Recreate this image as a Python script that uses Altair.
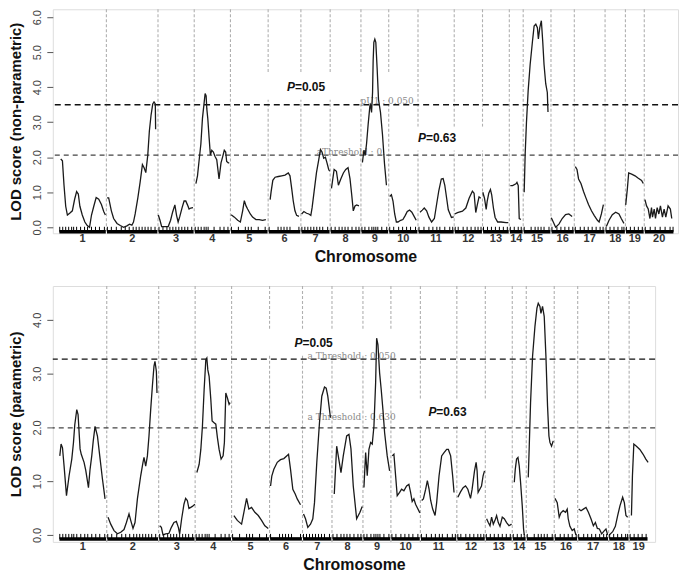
import altair as alt
import pandas as pd

# ---------------- data ----------------
CHROM_LEN = [48, 52, 36.5, 36.5, 38, 33, 29.5, 31, 28, 29.5, 36.5, 28.5, 27, 14, 28, 23.5, 31, 20.5, 19, 30]
CHROM_NAMES = [str(i) for i in range(1, 21)]

# non-parametric LOD (top panel): positions within chromosome (cM) and LOD
NP_POS = {
    1: [2, 3.7, 5.3, 7, 8.7, 11, 13.7, 16, 18, 19.7, 21.3, 23.7, 26.3, 28.7, 31, 33, 35.3, 37.7, 40.3, 43, 45.3, 47],
    2: [0.7, 2.3, 5, 7.3, 10.7, 14, 17.3, 20.7, 23.3, 25.7, 27.3, 29, 31.7, 34, 36.3, 38, 39.7, 41.7, 43.3, 45, 46.7, 48, 49.3, 49.6],
    3: [0.3, 2, 3.7, 7, 10.3, 12.7, 14.7, 17, 18.7, 20.3, 22, 24.3, 26.3, 28, 29.7, 31.3, 33, 35.3],
    4: [1.7, 3.3, 5, 6.7, 8.3, 10, 11, 12, 12.7, 13.7, 15, 16.3, 17.7, 19.3, 21, 22.7, 25, 27, 28.7, 30.3, 31.7, 32.7, 34.3, 35.3],
    5: [0.7, 4, 7.3, 10, 12.3, 14, 15.7, 17.3, 20, 22.3, 25.7, 29, 32.3, 35.7],
    6: [2, 3, 4.7, 7, 10.3, 13.7, 17, 20.3, 22, 23.7, 25.3, 27, 28.7, 31],
    7: [0.7, 3, 5.7, 8, 10, 11.3, 13.3, 15.7, 18, 19.7, 21.3, 23, 24.7, 26.3, 28, 29],
    8: [1.3, 4, 6.3, 8.3, 10.7, 13.3, 15.7, 18, 20, 21.7, 23.3, 25, 26.7, 29],
    9: [1.5, 3, 4.3, 5.7, 7.3, 9, 9.7, 10.7, 11.7, 12.3, 13, 14, 15, 16.3, 17.7, 19.7, 21.7, 23.7, 25.7],
    10: [1, 2.7, 4.3, 6, 7.7, 9.3, 12, 14.3, 16.7, 18.7, 21, 23.3, 26, 27.7],
    11: [2, 4.3, 6.3, 8.7, 11, 13.7, 16.5, 19, 21, 23.5, 25.3, 27, 29, 30.5, 33.7, 36],
    12: [0.5, 3.3, 8.3, 11.7, 15, 18.3, 20, 21.7, 23.3, 25, 26.7],
    13: [0.3, 2, 3.7, 4.7, 6.3, 8, 9.3, 11, 12.7, 15.3, 18.7, 23.7, 26],
    14: [1, 3.3, 6.7, 7.7, 9, 10, 11.7],
    15: [1, 2, 3.3, 5, 7, 9.3, 11, 12.7, 14.3, 15.3, 16.7, 18.3, 19.7, 21, 22.7, 24.3, 25],
    16: [0.3, 2.3, 4.7, 8, 11.3, 14.7, 18, 21.3],
    17: [1, 2.7, 4.3, 6.7, 9.3, 11.7, 14.3, 17.3, 20, 23.3, 25, 27.3, 29.3],
    18: [1.3, 4, 7.3, 10.7, 14, 16.3, 19],
    19: [0.3, 2, 3.3, 6.3, 9.7, 13, 16.3, 18],
    20: [0.7, 2.3, 4, 5.7, 7.3, 8.3, 10, 11.3, 13, 14.7, 16.3, 18.3, 20, 21.7, 24, 26.3, 27.7],
}
NP_LOD = {
    1: [1.95, 1.9, 1.2, 0.6, 0.35, 0.4, 0.47, 0.8, 1.02, 0.95, 0.6, 0.35, 0.15, 0.05, 0.0, 0.35, 0.6, 0.85, 0.8, 0.65, 0.45, 0.35],
    2: [0.84, 0.84, 0.47, 0.25, 0.11, 0.05, 0.0, 0.04, 0.09, 0.06, 0.15, 0.38, 0.84, 1.29, 1.79, 1.7, 1.56, 2.06, 2.75, 3.2, 3.52, 3.58, 3.52, 2.8],
    3: [0.35, 0.2, 0.02, 0.02, 0.02, 0.2, 0.43, 0.64, 0.34, 0.15, 0.31, 0.56, 0.75, 0.75, 0.64, 0.52, 0.55, 0.56],
    4: [1.25, 1.47, 1.93, 2.38, 3.11, 3.56, 3.82, 3.75, 3.38, 3.1, 2.56, 2.06, 2.2, 2.15, 2.02, 1.93, 1.38, 1.84, 2.02, 2.2, 2.15, 1.88, 1.84, 1.84],
    5: [0.36, 0.29, 0.2, 0.15, 0.47, 0.76, 0.61, 0.52, 0.38, 0.29, 0.22, 0.22, 0.2, 0.22],
    6: [0.79, 1.02, 1.34, 1.43, 1.45, 1.47, 1.49, 1.55, 1.47, 1.11, 0.75, 0.47, 0.34, 0.31],
    7: [0.38, 0.45, 0.4, 0.38, 0.34, 0.56, 1.02, 1.56, 1.93, 2.22, 2.15, 1.97, 2.0, 1.84, 1.65, 1.6],
    8: [1.11, 1.65, 1.6, 1.2, 1.38, 1.55, 1.65, 1.7, 1.38, 0.93, 0.47, 0.61, 0.64, 0.61],
    9: [1.85, 2.2, 2.05, 2.4, 2.95, 3.46, 3.5, 3.28, 3.85, 4.75, 5.28, 5.37, 5.28, 4.55, 3.65, 3.28, 2.65, 1.83, 1.2],
    10: [0.88, 0.93, 0.75, 0.38, 0.15, 0.15, 0.2, 0.22, 0.34, 0.45, 0.49, 0.43, 0.29, 0.2],
    11: [0.43, 0.49, 0.55, 0.47, 0.29, 0.15, 0.25, 0.7, 1.05, 1.38, 1.39, 1.2, 0.8, 0.5, 0.28, 0.3],
    12: [0.38, 0.42, 0.46, 0.55, 0.83, 1.03, 0.97, 0.42, 0.65, 0.87, 0.83],
    13: [1.0, 0.83, 0.51, 0.74, 0.97, 1.08, 0.92, 0.55, 0.28, 0.15, 0.15, 0.13, 0.13],
    14: [1.19, 1.19, 1.24, 1.28, 1.19, 0.25, 0.22],
    15: [1.0, 2.1, 3.0, 3.9, 4.65, 5.3, 5.75, 5.8, 5.7, 5.38, 5.7, 5.9, 5.3, 4.65, 4.1, 3.85, 3.29],
    16: [0.27, 0.15, 0.0, 0.09, 0.25, 0.36, 0.38, 0.31],
    17: [1.73, 1.65, 1.38, 1.25, 1.02, 0.84, 0.65, 0.47, 0.34, 0.2, 0.15, 0.38, 0.65],
    18: [0.02, 0.2, 0.36, 0.43, 0.38, 0.25, 0.11],
    19: [0.64, 1.11, 1.55, 1.52, 1.47, 1.4, 1.34, 1.25],
    20: [0.79, 0.61, 0.52, 0.25, 0.56, 0.29, 0.52, 0.25, 0.56, 0.38, 0.61, 0.29, 0.52, 0.29, 0.61, 0.52, 0.25],
}

# parametric LOD (bottom panel)
PA_POS = {
    1: [1, 2.3, 3.7, 5.3, 7.7, 10.3, 13, 14.7, 16, 18, 19.3, 21.3, 22.5, 25.3, 27, 29.7, 31.3, 33, 34.5, 36.3, 38.7, 41, 43.7, 46.3],
    2: [1.3, 4, 7.3, 10.7, 14, 17.3, 19.7, 22.3, 24, 26.3, 28.3, 30.7, 34, 36.3, 37.3, 39, 40.7, 42.3, 44, 45.7, 47.3, 48.3, 49.7, 50.3],
    3: [1, 2.7, 4.3, 7, 10.3, 12.7, 15.3, 17.7, 19.7, 21, 23, 25.3, 27, 28.7, 30.3, 33.7, 36.3],
    4: [1.7, 4, 5.7, 7.3, 9, 10.7, 11.7, 12.7, 14, 15.7, 17, 18.7, 20.7, 22.3, 24, 26, 28, 29.3, 30.7, 32.3, 34, 35],
    5: [2.3, 5.7, 10, 12.3, 15, 17.3, 20, 23.3, 26.7, 30, 33.3, 36.7],
    6: [1, 2.3, 4.3, 7.7, 11, 14.3, 19, 21, 23.3, 25.7, 27.7, 31],
    7: [1, 3, 5.3, 8, 10.3, 12, 14.3, 17, 19.3, 22, 23.7, 25.3, 28],
    8: [2.3, 4.7, 6.3, 9, 11.3, 14.7, 17, 19, 21.3, 24.7, 28, 30.3],
    9: [1, 2.7, 4.3, 6, 7.7, 9.3, 11, 12.7, 13.7, 15, 16.7, 18.3, 20, 21.7, 24.3, 26.7],
    10: [1.3, 3, 4.7, 6.3, 8.7, 10.7, 13, 15.7, 18, 19.7, 21.3, 23, 24.7, 26.3, 29],
    11: [1.3, 3, 5.3, 7, 8.7, 10.3, 12.3, 14.7, 16.3, 18.7, 21.3, 23.7, 26.3, 28, 30.3, 32.3, 33.7],
    12: [1, 3.7, 6.3, 8.7, 11, 13.7, 15.3, 17.7, 19.3, 20.3, 21.3, 23, 24.7, 26.3, 27.7],
    13: [1.3, 3, 4.7, 6.3, 8, 9.7, 11.3, 13, 14.7, 17, 19, 21.3, 23.7, 26.3],
    14: [2, 3, 4.3, 5.7, 7, 8.3, 10, 11.3, 12],
    15: [2, 3, 4.3, 6.3, 8.7, 10.7, 12, 13.7, 14.7, 16.3, 18, 19.7, 21.3, 22.7, 23.7, 25.3, 27],
    16: [0.7, 3, 5, 6.7, 9, 11.3, 13, 14, 15.7, 18, 20, 21.7],
    17: [1, 3.3, 5.7, 8.3, 10.7, 13.3, 15.7, 17.7, 19.7, 21.7, 24, 26.7, 28.3, 30],
    18: [0.7, 4, 6.7, 9, 11.3, 14, 15.7, 17.3, 19],
    19: [2.3, 3.3, 4.7, 7.3, 10.7, 14, 16.7, 19],
}
PA_LOD = {
    1: [1.47, 1.69, 1.62, 1.28, 0.73, 1.1, 1.41, 1.72, 2.05, 2.33, 2.24, 1.6, 1.5, 1.35, 1.2, 0.88, 1.22, 1.47, 1.75, 2.02, 1.84, 1.47, 1.04, 0.67],
    2: [0.33, 0.2, 0.08, 0.02, 0.05, 0.1, 0.23, 0.39, 0.27, 0.12, 0.23, 0.67, 1.1, 1.35, 1.44, 1.28, 1.47, 1.84, 2.33, 2.77, 3.14, 3.23, 3.04, 2.64],
    3: [0.17, 0.14, 0.0, 0.02, 0.03, 0.14, 0.23, 0.25, 0.14, 0.02, 0.3, 0.57, 0.68, 0.64, 0.49, 0.53, 0.57],
    4: [1.16, 1.31, 1.59, 2.02, 2.7, 3.26, 3.29, 3.07, 2.95, 2.52, 2.12, 2.09, 2.06, 1.81, 1.59, 1.41, 1.47, 1.72, 2.64, 2.55, 2.43, 2.46],
    5: [0.36, 0.27, 0.2, 0.42, 0.68, 0.48, 0.51, 0.42, 0.36, 0.27, 0.17, 0.12],
    6: [0.91, 1.1, 1.22, 1.35, 1.4, 1.42, 1.5, 1.22, 0.85, 0.76, 0.67, 0.56],
    7: [0.39, 0.3, 0.14, 0.2, 0.3, 0.6, 1.35, 2.09, 2.58, 2.75, 2.73, 2.58, 2.18],
    8: [0.76, 1.65, 1.47, 1.16, 1.47, 1.84, 1.87, 1.6, 0.91, 0.3, 0.42, 0.53],
    9: [0.88, 1.53, 1.1, 1.59, 1.72, 1.69, 2.02, 2.83, 3.66, 3.54, 3.01, 2.7, 2.33, 1.9, 1.47, 1.19],
    10: [1.47, 1.5, 1.1, 0.73, 0.79, 0.85, 0.82, 0.91, 0.94, 0.79, 0.62, 0.67, 0.57, 0.51, 0.41],
    11: [0.64, 0.67, 0.85, 1.01, 0.85, 0.64, 0.48, 0.36, 0.6, 1.1, 1.47, 1.53, 1.59, 1.59, 1.47, 1.1, 0.79],
    12: [0.7, 0.8, 0.88, 0.91, 0.85, 0.68, 0.85, 1.19, 1.35, 1.19, 0.79, 0.85, 0.91, 1.1, 1.19],
    13: [0.3, 0.23, 0.17, 0.33, 0.2, 0.27, 0.36, 0.23, 0.16, 0.33, 0.3, 0.23, 0.17, 0.2],
    14: [0.98, 1.22, 1.41, 1.44, 1.28, 0.98, 0.54, 0.11, 0.0],
    15: [1.07, 1.65, 2.46, 3.32, 3.88, 4.22, 4.31, 4.25, 4.12, 4.25, 4.06, 3.32, 2.4, 1.84, 1.72, 1.65, 1.75],
    16: [0.68, 0.6, 0.33, 0.41, 0.45, 0.42, 0.48, 0.3, 0.16, 0.08, 0.11, 0.0],
    17: [0.48, 0.45, 0.48, 0.51, 0.42, 0.3, 0.17, 0.23, 0.12, 0.11, 0.02, 0.08, 0.11, 0.0],
    18: [0.0, 0.06, 0.16, 0.36, 0.54, 0.7, 0.6, 0.36, 0.33],
    19: [0.36, 1.1, 1.69, 1.65, 1.59, 1.5, 1.41, 1.35],
}

# marker positions (cM within chromosome) for the rug
MARKERS = {
    1: [1, 4, 7, 10, 13, 15, 18, 22, 26, 29, 33, 37, 41, 46],
    2: [1, 5, 10, 15, 19, 23, 27, 30, 33, 36, 39, 42, 45, 49],
    3: [1, 5, 9, 12, 15, 18, 21, 24, 27, 30, 34],
    4: [1, 4, 7, 10, 12, 14, 20, 26, 30, 34],
    5: [1, 8, 15, 18, 21, 28, 35],
    6: [1, 10, 13, 16, 19, 22, 31],
    7: [1, 4, 7, 10, 13, 16, 19, 22, 27],
    8: [1, 5, 9, 12, 15, 18, 22, 26, 29],
    9: [1, 4, 8, 11, 13, 15, 17, 21, 26],
    10: [1, 5, 10, 14, 18, 22, 27],
    11: [1, 6, 11, 15, 19, 22, 27, 32, 35],
    12: [1, 4, 9, 13, 17, 21, 24, 27],
    13: [1, 5, 9, 13, 17, 21, 25],
    14: [1, 5, 9, 12],
    15: [1, 8, 12, 15, 18, 21, 26],
    16: [1, 6, 10, 14, 18, 22],
    17: [1, 6, 10, 14, 18, 22, 26, 29],
    18: [1, 5, 9, 13, 17, 19],
    19: [1, 5, 9, 13, 17],
    20: [1, 6, 11, 16, 21, 26, 29],
}

NP_THRESH = [3.5, 2.06]   # P=0.05, P=0.63
PA_THRESH = [3.27, 1.99]

# ---------------- helpers ----------------
STARTS = []
acc = 0.0
for L in CHROM_LEN:
    STARTS.append(acc)
    acc += L

FONT = "Liberation Sans"


def build_panel(pos, lod, n_chr, thresh, ytitle, ydomain, yticks, width, height,
                xdomain, ann, boxes, rug_y, lab_y):
    xs = alt.Scale(domain=xdomain, nice=False, zero=False)
    ys = alt.Scale(domain=ydomain, nice=False, zero=False)
    xaxis = alt.Axis(title="Chromosome", labels=False, ticks=False, domain=False, grid=False,
                     titlePadding=15, titleFontSize=16, titleFontWeight="bold",
                     titleColor="#111", titleFont=FONT)
    yaxis = alt.Axis(title=ytitle, values=yticks, format=".1f", grid=False, domain=False,
                     tickSize=6, tickColor="#555", labelAngle=270, labelAlign="center",
                     labelBaseline="bottom", labelPadding=4, labelFontSize=11,
                     labelColor="#444", labelFont="Liberation Sans Narrow, Liberation Sans",
                     titleFontSize=15, titleFontWeight="bold", titlePadding=8,
                     titleColor="#111", titleFont=FONT)
    X = lambda f: alt.X(f, type="quantitative", scale=xs, axis=xaxis)
    Y = lambda f: alt.Y(f, type="quantitative", scale=ys, axis=yaxis)

    rows = []
    for c in range(1, n_chr + 1):
        for p, v in zip(pos[c], lod[c]):
            rows.append({"chrom": c, "x": STARTS[c - 1] + p, "lod": v})
    curve_df = pd.DataFrame(rows)

    chrom_df = pd.DataFrame({
        "name": CHROM_NAMES[:n_chr],
        "start": STARTS[:n_chr],
        "end": [STARTS[i] + CHROM_LEN[i] for i in range(n_chr)],
        "mid": [STARTS[i] + CHROM_LEN[i] / 2 for i in range(n_chr)],
    })
    chrom_df["s1"] = chrom_df["start"] + 0.6
    chrom_df["e1"] = chrom_df["end"] - 0.6
    sep_df = chrom_df.iloc[1:]

    mk = []
    for c in range(1, n_chr + 1):
        for m in MARKERS[c]:
            mk.append({"x": STARTS[c - 1] + m})
    mk_df = pd.DataFrame(mk)

    seps = alt.Chart(sep_df).mark_rule(color="#b0b0b0", strokeWidth=1.1, strokeDash=[3, 2]).encode(
        x=X("start"))
    box_df = pd.DataFrame(boxes)
    wbox = alt.Chart(box_df).mark_rect(fill="white").encode(
        x=X("x1"), x2="x2", y=Y("y1"), y2="y2")
    th_df1 = pd.DataFrame({"v": [thresh[0]]})
    th_df2 = pd.DataFrame({"v": [thresh[1]]})
    th1 = alt.Chart(th_df1).mark_rule(color="#111", strokeWidth=1.5, strokeDash=[6, 4]).encode(y=Y("v"))
    th2 = alt.Chart(th_df2).mark_rule(color="#444", strokeWidth=1.3, strokeDash=[5, 4]).encode(y=Y("v"))
    curves = alt.Chart(curve_df).mark_line(color="#1a1a1a", strokeWidth=1.3).encode(
        x=X("x"), y=Y("lod"), detail="chrom:N")
    rug_bar = alt.Chart(chrom_df).mark_rule(color="#000", strokeWidth=3.5).encode(
        x=X("s1"), x2="e1", y=alt.value(rug_y))
    rug_ticks = alt.Chart(mk_df).mark_rule(color="#000", strokeWidth=1).encode(
        x=X("x"), y=alt.value(rug_y - 5), y2=alt.value(rug_y))
    chr_lab = alt.Chart(chrom_df).mark_text(font=FONT, fontSize=11, fontWeight="bold",
                                            color="#333", baseline="middle").encode(
        x=X("mid"), y=alt.value(lab_y), text="name:N")

    ann_df = pd.DataFrame(ann["p"])
    p_it = alt.Chart(ann_df).mark_text(font=FONT, fontSize=12, fontWeight="bold", fontStyle="italic",
                                       align="right", baseline="middle", color="#111").encode(
        x=X("x"), y=Y("y"), text="a:N")
    p_val = alt.Chart(ann_df).mark_text(font=FONT, fontSize=12, fontWeight="bold",
                                        align="left", baseline="middle", color="#111").encode(
        x=X("x"), y=Y("y"), text="b:N")
    g_df = pd.DataFrame(ann["g"])
    gray = alt.Chart(g_df).mark_text(font="DejaVu Serif", fontSize=9, align="left",
                                     baseline="middle", color="#8a8a8a").encode(
        x=X("x"), y=Y("y"), text="t:N")

    return alt.layer(seps, wbox, th1, th2, gray, curves, rug_bar, rug_ticks, chr_lab,
                     p_it, p_val).properties(width=width, height=height)


top_ann = {
    "p": [{"x": 238, "y": 4.0, "a": "P", "b": "=0.05"},
          {"x": 370, "y": 2.55, "a": "P", "b": "=0.63"}],
    "g": [{"x": 304, "y": 3.62, "t": "pU1 : 0.050"},
          {"x": 260, "y": 2.14, "t": "aThreshold : 0."}],
}
top_boxes = [{"x1": 207, "x2": 357, "y1": 4.4, "y2": 3.64},
             {"x1": 357, "x2": 432, "y1": 2.87, "y2": 2.19}]
bot_ann = {
    "p": [{"x": 244, "y": 3.57, "a": "P", "b": "=0.05"},
          {"x": 378, "y": 2.28, "a": "P", "b": "=0.63"}],
    "g": [{"x": 249, "y": 3.33, "t": "a Threshold : 0.050"},
          {"x": 249, "y": 2.2, "t": "a Threshold : 0.630"}],
}
bot_boxes = [{"x1": 207, "x2": 357, "y1": 3.81, "y2": 3.36},
             {"x1": 357, "x2": 434, "y1": 2.52, "y2": 2.03}]

top = build_panel(NP_POS, NP_LOD, 20, NP_THRESH, "LOD score (non-parametric)",
                  [-0.171, 6.227], [0, 1, 2, 3, 4, 5, 6], 628, 225, [-6, 624],
                  top_ann, top_boxes, rug_y=223.5, lab_y=231)
bottom = build_panel(PA_POS, PA_LOD, 19, PA_THRESH, "LOD score (parametric)",
                     [-0.13, 4.63], [0, 1, 2, 3, 4], 605, 257, [-6, 597],
                     bot_ann, bot_boxes, rug_y=254, lab_y=262)

chart = alt.vconcat(top, bottom, spacing=19).properties(
    padding={"left": 0, "top": -2, "right": 0, "bottom": 0}
).configure_view(stroke="#666", strokeWidth=1.5).configure(font=FONT)

chart.save("out.html", embed_options={"renderer": "svg", "actions": False})
